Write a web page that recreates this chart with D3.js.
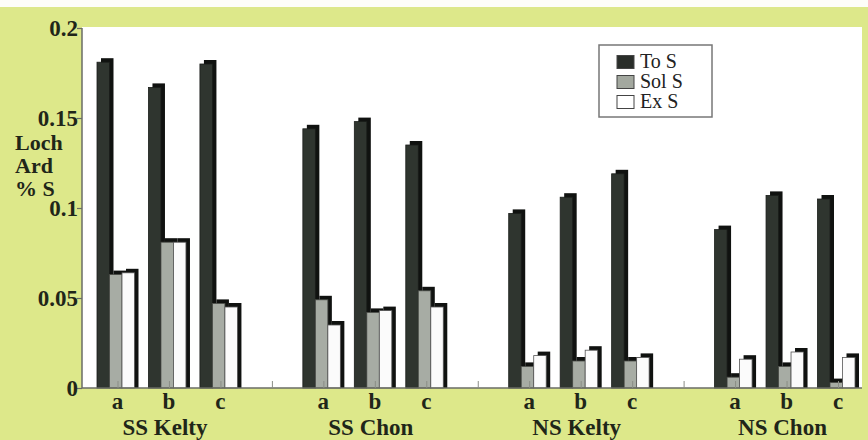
<!DOCTYPE html>
<html><head><meta charset="utf-8">
<script src="https://cdn.jsdelivr.net/npm/d3@7"></script>
<style>html,body{margin:0;padding:0;background:#fff;}svg{display:block;}</style>
</head><body>
<script>
const groups = ["SS Kelty", "SS Chon", "NS Kelty", "NS Chon"];
const subs = ["a", "b", "c"];
const seriesNames = ["To S", "Sol S", "Ex S"];
const toS  = [0.181, 0.167, 0.180, 0.144, 0.148, 0.135, 0.097, 0.106, 0.119, 0.088, 0.107, 0.105];
const solS = [0.063, 0.081, 0.047, 0.049, 0.042, 0.054, 0.012, 0.015, 0.015, 0.006, 0.012, 0.003];
const exS  = [0.064, 0.081, 0.045, 0.035, 0.043, 0.045, 0.018, 0.021, 0.017, 0.016, 0.020, 0.017];
const yTicks = [0, 0.05, 0.1, 0.15, 0.2];
const yTickLabels = ["0", "0.05", "0.1", "0.15", "0.2"];
const yTitle = ["Loch", "Ard", "% S"];

const W = 868, H = 440;
const green = "#dde88a";
const svg = d3.select("body").append("svg").attr("width", W).attr("height", H);
svg.append("rect").attr("width", W).attr("height", H).attr("fill", green);
svg.append("rect").attr("width", W).attr("height", 7).attr("fill", "#fdfdf8");

const plotL = 82, plotR = 862, plotT = 27, y0 = 388;
svg.append("rect").attr("x", plotL).attr("y", plotT).attr("width", plotR - plotL).attr("height", y0 - plotT).attr("fill", "#fff");

const y = d3.scaleLinear().domain([0, 0.2]).range([y0, 28]);

const slots = [];
groups.forEach((g, gi) => {
  subs.forEach(s => slots.push(g + "|" + s));
  if (gi < groups.length - 1) slots.push("gap" + gi);
});
const x = d3.scalePoint().domain(slots).range([117.5, 838]);

const data = [];
groups.forEach((g, gi) => subs.forEach((s, si) => {
  const i = gi * 3 + si;
  data.push({key: g + "|" + s, sub: s, vals: [toS[i], solS[i], exS[i]]});
}));

const bw = 12.5, off = 4;
const faces = ["#2f352f", "#a7aca4", "#fbfbfb"];
const faceStroke = ["#1a1d1a", "#4a4d48", "#555"];
const shadow = "#101210";

const bars = svg.append("g");
data.forEach(d => {
  const cx = x(d.key);
  d.vals.forEach((v, k) => {
    const bx = cx - 20.5 + k * bw;
    bars.append("rect").attr("x", bx + off).attr("y", y(v) - off)
      .attr("width", bw).attr("height", y0 - y(v) + off).attr("fill", shadow);
    bars.append("rect").attr("x", bx).attr("y", y(v))
      .attr("width", bw).attr("height", y0 - y(v))
      .attr("fill", faces[k]).attr("stroke", faceStroke[k]).attr("stroke-width", 0.8);
  });
});

const axisColor = "#6a6d66";
svg.append("line").attr("x1", plotL).attr("x2", plotL).attr("y1", y(0.2)).attr("y2", y0)
  .attr("stroke", axisColor).attr("stroke-width", 1.5);
svg.append("line").attr("x1", plotL).attr("x2", plotR).attr("y1", y0).attr("y2", y0)
  .attr("stroke", axisColor).attr("stroke-width", 1.5);

const font = "'Liberation Serif', 'Times New Roman', serif";
const yAxis = d3.axisLeft(y).tickValues(yTicks).tickSize(5).tickFormat((d, i) => yTickLabels[i]);
const ya = svg.append("g").attr("transform", `translate(${plotL},0)`).call(yAxis);
ya.select(".domain").remove();
ya.selectAll(".tick line").attr("stroke", axisColor).attr("stroke-width", 1.2);
ya.selectAll(".tick text").attr("x", -4).attr("fill", "#1f2619")
  .attr("font-family", font).attr("font-weight", "bold").attr("font-size", 23);

const xAxis = d3.axisBottom(x).tickSize(-7).tickFormat("");
const xa = svg.append("g").attr("transform", `translate(0,${y0})`).call(xAxis);
xa.select(".domain").remove();
xa.selectAll(".tick line").attr("stroke", "#8a8d86").attr("stroke-width", 1);

const lab = svg.append("g").attr("font-family", font).attr("font-weight", "bold").attr("fill", "#1f2619");
data.forEach(d => {
  lab.append("text").attr("x", x(d.key)).attr("y", 409).attr("text-anchor", "middle")
    .attr("font-size", 23).text(d.sub);
});
groups.forEach(g => {
  lab.append("text").attr("x", x(g + "|b") - 4).attr("y", 435).attr("text-anchor", "middle")
    .attr("font-size", 23).text(g);
});
yTitle.forEach((t, i) => {
  lab.append("text").attr("x", 15).attr("y", 150 + i * 23).attr("font-size", 22).text(t);
});

const lg = svg.append("g");
lg.append("rect").attr("x", 599).attr("y", 45).attr("width", 113).attr("height", 72)
  .attr("fill", "#fff").attr("stroke", "#777").attr("stroke-width", 1.5);
const swFill = ["#2a2e2a", "#a3a89f", "#fff"];
seriesNames.forEach((s, i) => {
  const cy = 62 + i * 20;
  lg.append("rect").attr("x", 617).attr("y", cy - 6.5).attr("width", 17).attr("height", 13)
    .attr("fill", swFill[i]).attr("stroke", "#444").attr("stroke-width", 1);
  lg.append("text").attr("x", 640).attr("y", cy + 6).attr("font-family", font)
    .attr("font-size", 20).attr("fill", "#222").text(s);
});
</script>
</body></html>
